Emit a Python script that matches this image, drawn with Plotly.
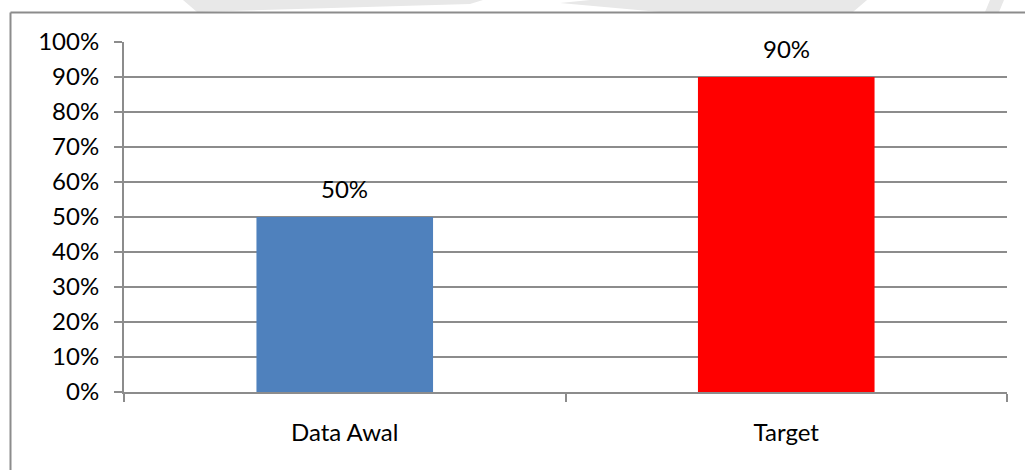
import plotly.graph_objects as go

categories = ["Data Awal", "Target"]
values = [0.50, 0.90]
bar_colors = ["#4F81BD", "#FF0000"]
y_ticks = [0, 0.1, 0.2, 0.3, 0.4, 0.5, 0.6, 0.7, 0.8, 0.9, 1.0]

W, H = 1025, 470
ML, MR, MT, MB = 124, 18, 42, 78
PW, PH = W - ML - MR, H - MT - MB
FONT = "Lato"
FS = 24
GRID = "#8c8c8c"


def px(x):
    return (x - ML) / PW


def py(y):
    return (H - MB - y) / PH


def poly(points):
    d = "M " + " L ".join(f"{px(a):.5f},{py(b):.5f}" for a, b in points) + " Z"
    return dict(type="path", xref="paper", yref="paper", path=d,
                fillcolor="#e8e8e8", line=dict(width=0), layer="below")


fig = go.Figure()
fig.add_trace(go.Bar(x=categories, y=values, marker=dict(color=bar_colors, line=dict(width=0)),
                     hoverinfo="skip"))

for c, v in zip(categories, values):
    fig.add_annotation(x=c, y=v, text=f"{v:.0%}", showarrow=False, yanchor="bottom",
                       yshift=12, font=dict(family=FONT, size=FS, color="#000000"))

shapes = [
    # faint watermark fragments above the chart frame
    poly([(183, 0), (483, 0), (470, 4), (197, 12)]),
    poly([(560, 3), (590, 0), (867, 0), (853, 12), (660, 12)]),
    poly([(990, 0), (1004, 0), (999, 12), (985, 12)]),
    # chart frame (top and left edges)
    dict(type="line", xref="paper", yref="paper", x0=px(10.5), x1=px(1030), y0=py(12.5), y1=py(12.5),
         line=dict(color=GRID, width=2)),
    dict(type="line", xref="paper", yref="paper", x0=px(10.5), x1=px(10.5), y0=py(12.5), y1=py(475),
         line=dict(color=GRID, width=2)),
]

fig.update_layout(
    width=W, height=H,
    margin=dict(l=ML, r=MR, t=MT, b=MB, pad=0),
    paper_bgcolor="white", plot_bgcolor="white",
    showlegend=False, bargap=0.6,
    font=dict(family=FONT, size=FS, color="#000000"),
    shapes=shapes,
    xaxis=dict(type="category", tickson="boundaries", ticks="outside", ticklen=8,
               tickwidth=2, tickcolor=GRID, showline=True, linecolor=GRID, linewidth=2,
               showgrid=False, ticklabelstandoff=18,
               tickfont=dict(family=FONT, size=FS, color="#000000")),
    yaxis=dict(range=[0, 1], tickvals=y_ticks, tickformat=".0%", ticks="outside", ticklen=8,
               tickwidth=2, tickcolor=GRID, showline=True, linecolor=GRID, linewidth=2,
               showgrid=True, gridcolor=GRID, gridwidth=2, zeroline=False,
               ticklabelstandoff=10,
               tickfont=dict(family=FONT, size=FS, color="#000000")),
)

fig.write_html("out.html")
